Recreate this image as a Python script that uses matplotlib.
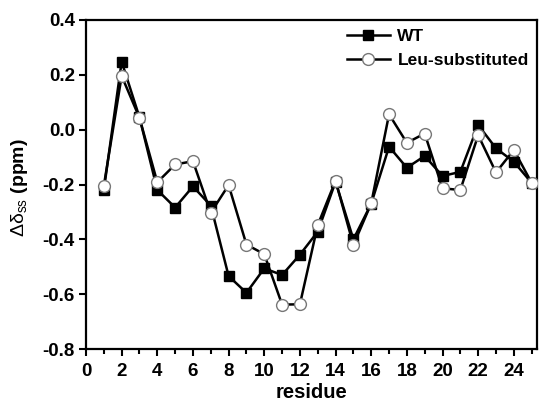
import matplotlib
matplotlib.use('Agg')
import matplotlib.pyplot as plt
from matplotlib.ticker import MultipleLocator

plt.rcParams['font.family'] = ['Liberation Sans', 'DejaVu Sans']
plt.rcParams['font.weight'] = 'bold'
plt.rcParams['mathtext.fontset'] = 'custom'
plt.rcParams['mathtext.rm'] = 'Liberation Sans:weight=normal'

residue = list(range(1, 26))
wt = [-0.22, 0.248, 0.045, -0.22, -0.284, -0.207, -0.277, -0.534, -0.595, -0.506,
      -0.53, -0.456, -0.372, -0.19, -0.40, -0.27, -0.062, -0.139, -0.096, -0.169,
      -0.154, 0.017, -0.068, -0.117, -0.194]
leu = [-0.205, 0.196, 0.043, -0.192, -0.127, -0.115, -0.303, -0.202, -0.419, -0.454,
       -0.638, -0.637, -0.348, -0.186, -0.421, -0.269, 0.056, -0.048, -0.014, -0.214,
       -0.22, -0.02, -0.156, -0.074, -0.194]
yticks = [0.4, 0.2, 0.0, -0.2, -0.4, -0.6, -0.8]

fig = plt.figure(figsize=(5.4, 4.04), dpi=100)
ax = fig.add_axes([86 / 540, 1 - 349 / 404, (537 - 86) / 540, (349 - 20) / 404])

ax.plot(residue, wt, color='black', lw=1.8, marker='s', ms=7.5,
        mfc='black', mec='black', label='WT', zorder=3)
ax.plot(residue, leu, color='black', lw=1.8, marker='o', ms=8.5,
        mfc='white', mec='#777777', mew=1.0, label='Leu-substituted', zorder=3)

ax.set_xlim(0, 25.3)
ax.set_ylim(-0.8, 0.4)
ax.xaxis.set_major_locator(MultipleLocator(2))
ax.xaxis.set_minor_locator(MultipleLocator(1))
ax.set_yticks(yticks)
ax.set_yticklabels(['%.1f' % v for v in yticks])

ax.tick_params(axis='both', which='major', direction='out', length=5, width=1.5,
               labelsize=13.5)
ax.tick_params(axis='x', which='major', pad=5)
ax.tick_params(axis='y', which='major', pad=3)
ax.tick_params(axis='x', which='minor', direction='out', length=3.5, width=1.5)
for s in ax.spines.values():
    s.set_linewidth(1.6)

ax.set_xlabel('residue', fontsize=14.5, fontweight='bold', labelpad=2)
ax.set_ylabel(r'$\mathrm{\Delta\delta_{ss}}$ (ppm)', fontsize=14, fontweight='bold')
ax.yaxis.set_label_coords(-0.125, 0.49)

ax.legend(loc='upper left', frameon=False, fontsize=12.5, handlelength=2.45,
          handletextpad=0.45, labelspacing=0.5, borderpad=0, borderaxespad=0,
          bbox_to_anchor=(0.579, 0.972))

fig.savefig('out.png', dpi=100)
